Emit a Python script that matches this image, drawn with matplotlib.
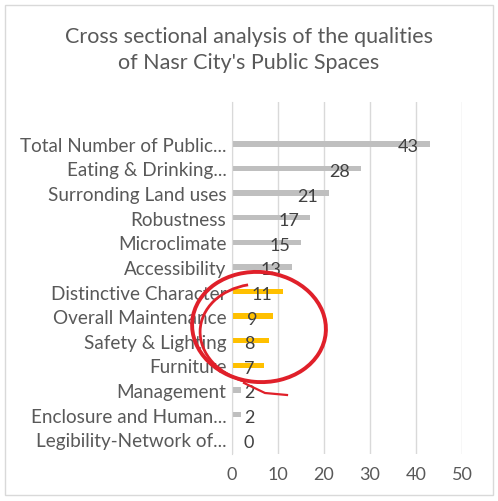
import matplotlib
matplotlib.use("Agg")
import matplotlib.pyplot as plt
from matplotlib.patches import Arc, Rectangle

categories = ["Total Number of Public...", "Eating & Drinking...", "Surronding Land uses",
              "Robustness", "Microclimate", "Accessibility", "Distinctive Character",
              "Overall Maintenance", "Safety & Lighting", "Furniture", "Management",
              "Enclosure and Human...", "Legibility-Network of..."]
values = [43, 28, 21, 17, 15, 13, 11, 9, 8, 7, 2, 2, 0]
highlight = ["Distinctive Character", "Overall Maintenance", "Safety & Lighting", "Furniture"]
xticks = [0, 10, 20, 30, 40, 50]

plt.rcParams['font.family'] = ['Lato', 'DejaVu Sans']
txt = '#595959'

fig = plt.figure(figsize=(4.98, 5.02), dpi=100)
W, H = 498, 502
ax = fig.add_axes([232 / W, 47 / H, 230 / W, 352 / H])

colors = ['#FFC000' if c in highlight else '#BFBFBF' for c in categories]
ypos = list(range(len(categories)))
ax.barh(ypos, values, height=0.22, color=colors, zorder=2)

for y, v in zip(ypos, values):
    ax.text(max(v - 4.6, 3.7), y + 0.1, str(v), ha='center', va='center',
            fontsize=13, color='#404040', zorder=3)

ax.set_xlim(0, 50)
ax.set_ylim(12.6, -1.7)
ax.set_xticks(xticks)
ax.set_xticklabels([str(t) for t in xticks], fontsize=13, color=txt)
ax.set_yticks(ypos)
ax.set_yticklabels(categories, fontsize=13.6, color=txt)
ax.tick_params(length=0, pad=4)
ax.tick_params(axis='x', pad=9)
for lbl in ax.get_yticklabels():
    lbl.set_y(lbl.get_position()[1])
ax.grid(axis='x', color='#D9D9D9', linewidth=1, zorder=0)
for s in ['top', 'right', 'bottom']:
    ax.spines[s].set_visible(False)
ax.spines['left'].set_color('#D9D9D9')

fig.text(249 / W, 1 - 50 / H, "Cross sectional analysis of the qualities\nof Nasr City's Public Spaces",
         ha='center', va='center', fontsize=15.5, color=txt, linespacing=1.4)

# outer frame
fig.add_artist(Rectangle((5 / W, 6 / H), 488 / W, 490 / H, transform=fig.transFigure,
                         fill=False, edgecolor='#D9D9D9', linewidth=1))

# hand-drawn red circle
red = '#E0202A'
fig.add_artist(Arc((259 / W, 1 - 328 / H), 134 / W, 110 / H, angle=-5, theta1=0, theta2=360,
                   transform=fig.transFigure, color=red, linewidth=2.8))
fig.add_artist(Arc((263 / W, 1 - 335 / H), 126 / W, 100 / H, angle=-5, theta1=112, theta2=255,
                   transform=fig.transFigure, color=red, linewidth=2.0))
fig.add_artist(plt.Line2D([244 / W, 265 / W, 287 / W], [1 - 384 / H, 1 - 394 / H, 1 - 396 / H],
                          transform=fig.transFigure, color=red, linewidth=1.6))

fig.savefig("out.png", dpi=100)
